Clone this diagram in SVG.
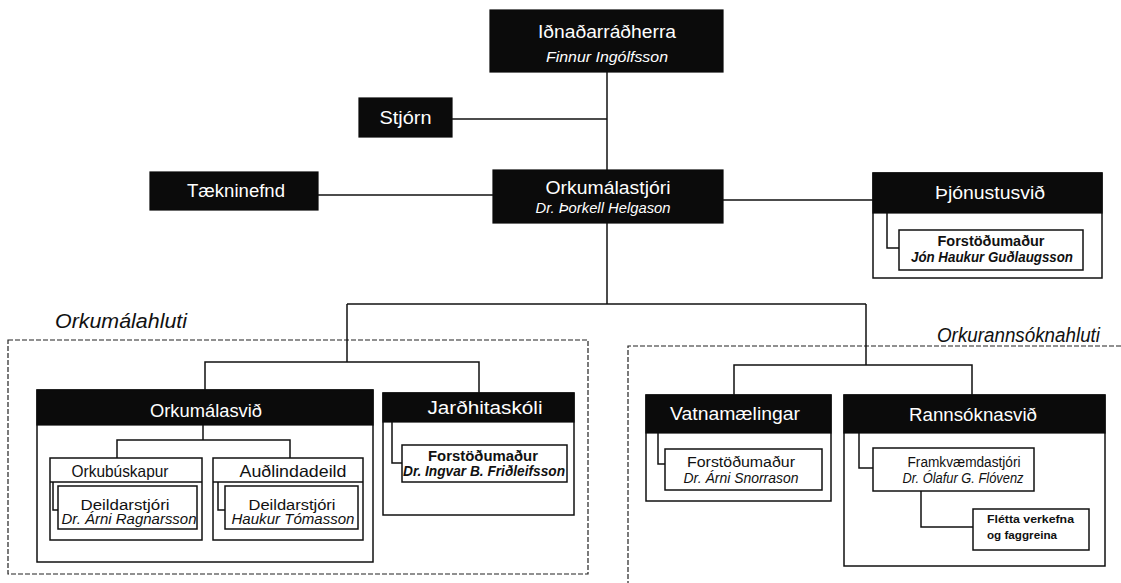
<svg xmlns="http://www.w3.org/2000/svg" width="1121" height="583" viewBox="0 0 1121 583">
<style>
  text { font-family: "Liberation Sans", Arial, sans-serif; }
  .blk { fill: #0b0b0b; stroke: #0b0b0b; stroke-width: 1.2; }
  .body { fill: #fff; stroke: #111; stroke-width: 1.5; }
  .box { fill: #fff; stroke: #111; stroke-width: 1.5; }
  .ln { fill: none; stroke: #111; stroke-width: 1.5; }
  .dash { fill: none; stroke: #222; stroke-width: 1.2; stroke-dasharray: 5 2; }
  .hw { fill: #fff; font-size: 17.5px; text-anchor: middle; }
  .hwi { fill: #fff; font-size: 14px; font-style: italic; text-anchor: middle; }
  .t1 { fill: #111; font-size: 15.5px; text-anchor: middle; }
  .t1b { fill: #111; font-size: 15.5px; font-weight: bold; text-anchor: middle; }
  .t2 { fill: #111; font-size: 14px; font-style: italic; text-anchor: middle; }
  .t2b { fill: #111; font-size: 14px; font-style: italic; font-weight: bold; text-anchor: middle; }
  .tt { fill: #111; font-size: 16.5px; text-anchor: middle; }
  .sec { fill: #111; font-size: 20px; font-style: italic; }
  .sm { fill: #111; font-size: 11.5px; font-weight: bold; }
</style>

<g id="sections">
  <rect class="dash" x="8" y="340" width="580" height="234"/>
  <path class="dash" d="M1121,346 L628,346 L628,583"/>
  <text class="sec" x="55" y="328" textLength="132" lengthAdjust="spacingAndGlyphs">Orkumálahluti</text>
  <text class="sec" x="937" y="342" textLength="163" lengthAdjust="spacingAndGlyphs">Orkurannsóknahluti</text>
</g>

<g id="n-idnadarradherra">
  <rect class="blk" x="490" y="10" width="233" height="62"/>
  <text class="hw" x="607" y="38" textLength="138" lengthAdjust="spacingAndGlyphs">Iðnaðarráðherra</text>
  <text class="hwi" x="607" y="62" textLength="122" lengthAdjust="spacingAndGlyphs">Finnur Ingólfsson</text>
</g>

<g id="n-stjorn">
  <rect class="blk" x="359" y="98" width="93" height="39"/>
  <text class="hw" x="405.5" y="124" textLength="52" lengthAdjust="spacingAndGlyphs">Stjórn</text>
</g>

<g id="n-taekninefnd">
  <rect class="blk" x="150" y="172" width="168" height="38"/>
  <text class="hw" x="236" y="197" textLength="98" lengthAdjust="spacingAndGlyphs">Tækninefnd</text>
</g>

<g id="n-orkumalastjori">
  <rect class="blk" x="493" y="170" width="230" height="53"/>
  <text class="hw" x="608" y="194" textLength="125" lengthAdjust="spacingAndGlyphs">Orkumálastjóri</text>
  <text class="hwi" x="603" y="213" textLength="135" lengthAdjust="spacingAndGlyphs">Dr. Þorkell Helgason</text>
</g>

<g id="n-thjonustusvid">
  <rect class="body" x="873" y="173" width="229" height="105"/>
  <rect class="blk" x="873" y="173" width="229" height="40"/>
  <text class="hw" x="990" y="199" textLength="110" lengthAdjust="spacingAndGlyphs">Þjónustusvið</text>
</g>
<g id="n-thjonustusvid-forstodumadur">
  <rect class="box" x="899" y="230" width="184" height="40"/>
  <text class="t1b" x="991" y="246" textLength="107" lengthAdjust="spacingAndGlyphs">Forstöðumaður</text>
  <text class="t2b" x="992" y="262" textLength="162" lengthAdjust="spacingAndGlyphs">Jón Haukur Guðlaugsson</text>
</g>

<g id="n-orkumalasvid">
  <rect class="body" x="37" y="390" width="336" height="172"/>
  <rect class="blk" x="37" y="390" width="336" height="35"/>
  <text class="hw" x="206" y="417" textLength="112" lengthAdjust="spacingAndGlyphs">Orkumálasvið</text>
</g>

<g id="n-orkubuskapur">
  <rect class="box" x="50" y="458" width="152" height="82"/>
  <path class="ln" d="M50,482 H202"/>
  <text class="tt" x="120" y="477" textLength="97" lengthAdjust="spacingAndGlyphs">Orkubúskapur</text>
</g>
<g id="n-orkubuskapur-deildarstjori">
  <rect class="box" x="58" y="486" width="139" height="43"/>
  <text class="t1" x="125" y="510" textLength="89" lengthAdjust="spacingAndGlyphs">Deildarstjóri</text>
  <text class="t2" x="129" y="524" textLength="135" lengthAdjust="spacingAndGlyphs">Dr. Árni Ragnarsson</text>
</g>

<g id="n-audlindadeild">
  <rect class="box" x="213" y="458" width="150" height="82"/>
  <path class="ln" d="M213,482 H363"/>
  <text class="tt" x="293" y="477" textLength="107" lengthAdjust="spacingAndGlyphs">Auðlindadeild</text>
</g>
<g id="n-audlindadeild-deildarstjori">
  <rect class="box" x="225" y="486" width="133" height="43"/>
  <text class="t1" x="292" y="510" textLength="87" lengthAdjust="spacingAndGlyphs">Deildarstjóri</text>
  <text class="t2" x="293" y="524" textLength="123" lengthAdjust="spacingAndGlyphs">Haukur Tómasson</text>
</g>

<g id="n-jardhitaskoli">
  <rect class="body" x="383" y="393" width="191" height="122"/>
  <rect class="blk" x="383" y="393" width="191" height="29"/>
  <text class="hw" x="485" y="414" textLength="115" lengthAdjust="spacingAndGlyphs">Jarðhitaskóli</text>
</g>
<g id="n-jardhitaskoli-forstodumadur">
  <rect class="box" x="402" y="445" width="165" height="37"/>
  <text class="t1b" x="483" y="461" textLength="110" lengthAdjust="spacingAndGlyphs">Forstöðumaður</text>
  <text class="t2b" x="484" y="476" textLength="162" lengthAdjust="spacingAndGlyphs">Dr. Ingvar B. Friðleifsson</text>
</g>

<g id="n-vatnamaelingar">
  <rect class="body" x="646" y="395" width="185" height="106"/>
  <rect class="blk" x="646" y="395" width="185" height="38"/>
  <text class="hw" x="735" y="420" textLength="130" lengthAdjust="spacingAndGlyphs">Vatnamælingar</text>
</g>
<g id="n-vatnamaelingar-forstodumadur">
  <rect class="box" x="665" y="449" width="157" height="41"/>
  <text class="t1" x="741" y="467" textLength="108" lengthAdjust="spacingAndGlyphs">Forstöðumaður</text>
  <text class="t2" x="741" y="483" textLength="115" lengthAdjust="spacingAndGlyphs">Dr. Árni Snorrason</text>
</g>

<g id="n-rannsoknasvid">
  <rect class="body" x="844" y="395" width="261" height="171"/>
  <rect class="blk" x="844" y="395" width="261" height="38"/>
  <text class="hw" x="973" y="421" textLength="128" lengthAdjust="spacingAndGlyphs">Rannsóknasvið</text>
</g>
<g id="n-framkvaemdastjori">
  <rect class="box" x="873" y="448" width="161" height="43"/>
  <text class="t1" x="964" y="467" textLength="113" lengthAdjust="spacingAndGlyphs">Framkvæmdastjóri</text>
  <text class="t2" x="963" y="483" textLength="121" lengthAdjust="spacingAndGlyphs">Dr. Ólafur G. Flóvenz</text>
</g>
<g id="n-fletta">
  <rect class="box" x="973" y="509" width="116" height="41"/>
  <text class="sm" x="987" y="523" textLength="87" lengthAdjust="spacingAndGlyphs">Flétta verkefna</text>
  <text class="sm" x="987" y="539" textLength="70" lengthAdjust="spacingAndGlyphs">og faggreina</text>
</g>

<g id="connectors">
  <path class="ln" d="M607,72 V170"/>
  <path class="ln" d="M452,119 H607"/>
  <path class="ln" d="M318,195 H493"/>
  <path class="ln" d="M723,200 H873"/>
  <path class="ln" d="M887,213 V248 H899"/>
  <path class="ln" d="M607,223 V304"/>
  <path class="ln" d="M347,304 H866"/>
  <path class="ln" d="M347,304 V362"/>
  <path class="ln" d="M205,390 V362 H479 V393"/>
  <path class="ln" d="M866,304 V365"/>
  <path class="ln" d="M734,395 V365 H972 V395"/>
  <path class="ln" d="M203,425 V440"/>
  <path class="ln" d="M117,458 V440 H290 V458"/>
  <path class="ln" d="M53,482 V510 H58"/>
  <path class="ln" d="M218,482 V510 H225"/>
  <path class="ln" d="M392,422 V463 H402"/>
  <path class="ln" d="M658,433 V464 H665"/>
  <path class="ln" d="M859,433 V468 H873"/>
  <path class="ln" d="M921,491 V527 H973"/>
</g>
</svg>
